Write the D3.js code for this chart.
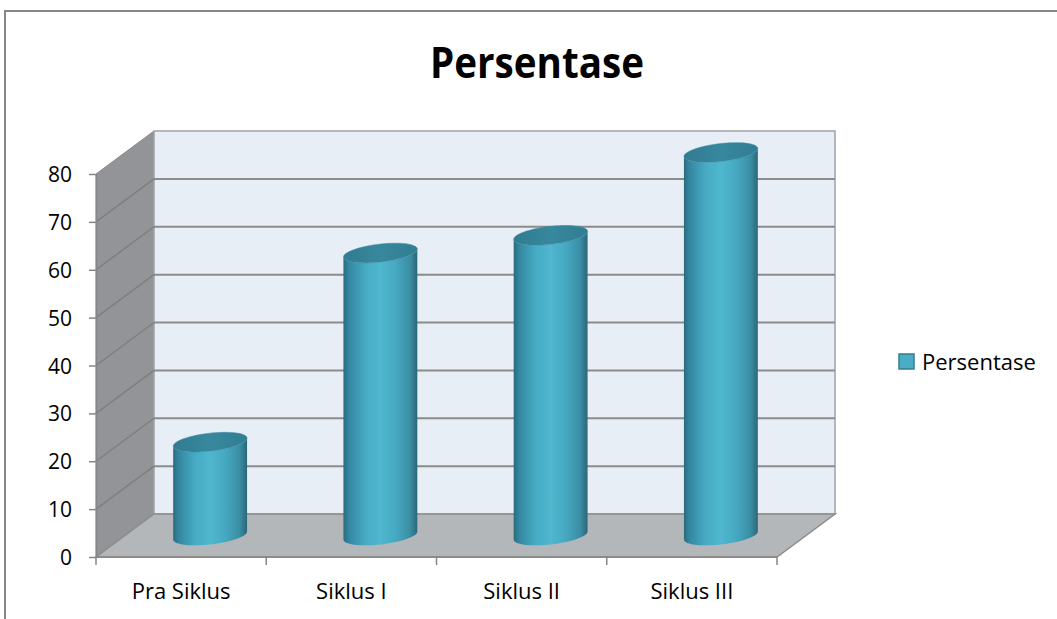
<!DOCTYPE html>
<html>
<head>
<meta charset="utf-8">
<script src="https://cdn.jsdelivr.net/npm/d3@7"></script>
<style>
  html, body { margin: 0; padding: 0; background: #fff; }
  svg { display: block; }
</style>
</head>
<body>
<div id="chart"></div>
<script>
const categories = ["Pra Siklus", "Siklus I", "Siklus II", "Siklus III"];
const values = [19.5, 59, 62.7, 80];
const yTicks = [0, 10, 20, 30, 40, 50, 60, 70, 80];
const seriesName = "Persentase";
const chartTitle = "Persentase";

const width = 1057;
const height = 619;

const svg = d3
  .select("#chart")
  .append("svg")
  .attr("width", width)
  .attr("height", height)
  .attr("viewBox", [0, 0, width, height])
  .style("font-family", "'Open Sans', sans-serif");

// outer chart frame (cut off at right and bottom)
svg.append("path")
  .attr("d", `M5,${height + 5} L5,11 L${width + 5},11`)
  .attr("fill", "none")
  .attr("stroke", "#878787")
  .attr("stroke-width", 2);

// title, squeezed a bit to get the narrow look of the original
svg.append("text")
  .attr("x", 537)
  .attr("y", 78)
  .attr("text-anchor", "middle")
  .attr("textLength", 214)
  .attr("lengthAdjust", "spacingAndGlyphs")
  .style("font-size", "43px")
  .style("font-weight", "700")
  .attr("fill", "#000")
  .text(chartTitle);

// scales for the front plane, depth offset goes back and up
const x = d3.scaleBand().domain(categories).range([96, 777]);
const y = d3.scaleLinear().domain([0, 80]).range([557, 174]);
const depth = { dx: 58, dy: -43 };
const x0 = x.range()[0], x1 = x.range()[1];
const yMin = y(0), yMax = y(80);

const defs = svg.append("defs");

const bodyGrad = defs.append("linearGradient")
  .attr("id", "cylBody")
  .attr("x1", "0%").attr("x2", "100%").attr("y1", "0%").attr("y2", "0%");
[
  [0, "#2a6a7c"], [0.07, "#3386a0"], [0.3, "#47abc4"], [0.5, "#4fb7cf"],
  [0.7, "#46a9c2"], [0.9, "#3a8ea4"], [1, "#2b6777"]
].forEach(([o, c]) => bodyGrad.append("stop").attr("offset", o).attr("stop-color", c));

const topGrad = defs.append("linearGradient")
  .attr("id", "cylTop")
  .attr("x1", "0%").attr("x2", "100%").attr("y1", "0%").attr("y2", "0%");
[[0, "#317b90"], [0.5, "#37889e"], [1, "#327d91"]]
  .forEach(([o, c]) => topGrad.append("stop").attr("offset", o).attr("stop-color", c));

// left side wall
svg.append("path")
  .attr("d", `M${x0},${yMin} L${x0},${yMax} L${x0 + depth.dx},${yMax + depth.dy} L${x0 + depth.dx},${yMin + depth.dy} Z`)
  .attr("fill", "#929497")
  .attr("stroke", "#8a8a8a")
  .attr("stroke-width", 1);

// back wall
svg.append("rect")
  .attr("x", x0 + depth.dx)
  .attr("y", yMax + depth.dy)
  .attr("width", x1 - x0)
  .attr("height", yMin - yMax)
  .attr("fill", "#e8eef6")
  .attr("stroke", "#a3a3a3")
  .attr("stroke-width", 1.5);

// gridlines on back and side wall
const gridVals = yTicks.filter(v => v > 0 && v < 80);
svg.append("g")
  .selectAll("line")
  .data(gridVals)
  .join("line")
  .attr("x1", x0 + depth.dx)
  .attr("x2", x1 + depth.dx)
  .attr("y1", d => y(d) + depth.dy)
  .attr("y2", d => y(d) + depth.dy)
  .attr("stroke", "#8b8b8b")
  .attr("stroke-width", 2);

svg.append("g")
  .selectAll("line")
  .data(gridVals)
  .join("line")
  .attr("x1", x0)
  .attr("x2", x0 + depth.dx)
  .attr("y1", d => y(d))
  .attr("y2", d => y(d) + depth.dy)
  .attr("stroke", "#7d7f82")
  .attr("stroke-width", 1.5);

// floor
svg.append("path")
  .attr("d", `M${x0},${yMin} L${x1},${yMin} L${x1 + depth.dx},${yMin + depth.dy} L${x0 + depth.dx},${yMin + depth.dy} Z`)
  .attr("fill", "#b4b7ba")
  .attr("stroke", "#8c8c8c")
  .attr("stroke-width", 1.5);

// y axis on front edge
const yAxis = svg.append("g")
  .attr("transform", `translate(${x0},0)`)
  .call(d3.axisLeft(y).tickValues(yTicks).tickSize(7).tickPadding(17).tickSizeOuter(0));
yAxis.select(".domain").attr("stroke", "#868686").attr("stroke-width", 1.5);
yAxis.selectAll(".tick line").attr("stroke", "#868686").attr("stroke-width", 1.5);
yAxis.selectAll(".tick text")
  .attr("fill", "#000")
  .style("font-size", "21px")
  .style("font-family", "'Open Sans', sans-serif")
  .attr("dy", "0.36em");

// x axis: labels under band centers, ticks at band edges
const xAxis = svg.append("g")
  .attr("transform", `translate(0,${yMin})`)
  .call(d3.axisBottom(x).tickSize(0).tickPadding(26));
xAxis.select(".domain").remove();
xAxis.selectAll(".tick text")
  .attr("fill", "#000")
  .style("font-size", "22px")
  .style("font-family", "'Open Sans', sans-serif");

svg.append("line")
  .attr("x1", x0).attr("x2", x1)
  .attr("y1", yMin).attr("y2", yMin)
  .attr("stroke", "#868686")
  .attr("stroke-width", 1.5);

svg.append("g")
  .selectAll("line")
  .data(categories.map(c => x(c)).concat([x1]))
  .join("line")
  .attr("x1", d => d).attr("x2", d => d)
  .attr("y1", yMin).attr("y2", yMin + 8)
  .attr("stroke", "#868686")
  .attr("stroke-width", 1.5);

// cylinders sit at half depth
const rx = x.bandwidth() * 0.217;
const ry = 9;
const shear = -4;
const line = d3.line();

function ellPts(cx, cy, t0, t1, n) {
  return d3.range(n + 1).map(i => {
    const t = t0 + (t1 - t0) * i / n;
    return [cx + rx * Math.cos(t), cy + ry * Math.sin(t) + shear * Math.cos(t)];
  });
}

const bars = svg.append("g")
  .selectAll("g")
  .data(categories.map((c, i) => ({ c, v: values[i] })))
  .join("g");

bars.append("path")
  .attr("fill", "url(#cylBody)")
  .attr("d", d => {
    const cx = x(d.c) + x.bandwidth() / 2 + depth.dx / 2;
    const by = y(0) + depth.dy / 2;
    const ty = y(d.v) + depth.dy / 2;
    const pts = ellPts(cx, by, Math.PI, 0, 40).concat(ellPts(cx, ty, 0, Math.PI, 40));
    return line(pts) + "Z";
  });

bars.append("path")
  .attr("fill", "url(#cylTop)")
  .attr("stroke", "#3a8aa0")
  .attr("stroke-width", 0.5)
  .attr("d", d => {
    const cx = x(d.c) + x.bandwidth() / 2 + depth.dx / 2;
    const ty = y(d.v) + depth.dy / 2;
    return line(ellPts(cx, ty, 0, 2 * Math.PI, 80)) + "Z";
  });

// legend
const legend = svg.append("g").attr("transform", "translate(899,354)");
legend.append("rect")
  .attr("width", 15).attr("height", 15)
  .attr("fill", "#4bacc6")
  .attr("stroke", "#357d91")
  .attr("stroke-width", 1.5);
legend.append("text")
  .attr("x", 23)
  .attr("y", 16)
  .attr("fill", "#000")
  .style("font-size", "22px")
  .text(seriesName);
</script>
</body>
</html>
